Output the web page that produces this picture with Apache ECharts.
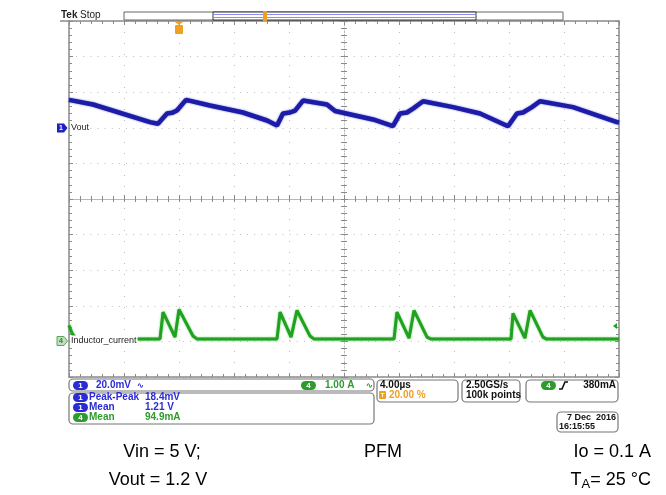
<!DOCTYPE html>
<html><head><meta charset="utf-8">
<script src="https://cdn.jsdelivr.net/npm/echarts@6/dist/echarts.min.js"></script>
<style>html,body{margin:0;padding:0;background:#fff}#c{width:666px;height:495px}</style>
</head><body><div id="c"></div>
<script>
// ---- data ----
// time in microseconds relative to trigger (-8 .. 32 us, 4 us/div)
const voutTime = [-8.00,-6.25,-2.11,-1.53,-0.87,-0.51,-0.15,0.51,2.25,4.65,6.40,7.13,7.56,8.07,8.44,9.02,10.76,11.35,14.11,15.56,16.07,16.58,17.02,17.75,19.93,21.89,23.93,24.58,25.02,25.67,26.25,28.65,31.85,32.00];
// Vout ripple, mV above the channel-1 ground marker (20 mV/div)
const voutRipple = [15.7,13.1,3.2,2.3,8.0,8.4,9.7,15.7,12.5,8.6,4.1,1.3,8.0,8.6,9.7,15.3,13.1,9.4,4.7,0.9,8.0,8.6,10.8,14.9,11.6,8.0,0.9,8.0,8.6,11.6,14.9,11.6,3.2,3.0];
const currentTime = [-8.00,-7.78,-7.49,-1.38,-1.16,-0.29,0.00,1.02,1.30,7.13,7.35,8.15,8.58,9.53,9.80,15.64,15.85,16.73,17.09,18.04,18.30,24.15,24.29,25.16,25.53,26.47,26.70,32.00];
// inductor current, A (1 A/div)
const currentA = [0.45,0.23,0.07,0.07,0.82,0.12,0.90,0.15,0.07,0.07,0.82,0.12,0.87,0.15,0.07,0.07,0.82,0.09,0.87,0.12,0.07,0.07,0.79,0.09,0.87,0.12,0.07,0.07];
const timeTicks = {min:-8, max:32, step:4};
const divTicks = {min:-5, max:5, step:1};

const chart = echarts.init(document.getElementById('c'), null, {renderer:'canvas'});
const GRAY = '#8a8a8a', DOT = '#bdbdbd';
const BLUE = '#1c1ca6', GREEN = '#1fa31f', TBLUE = '#2b2bd6', TGREEN = '#2c9c2c', ORANGE = '#f0a020';
const FONT = 'Liberation Sans';
const G = {left:69, top:21, width:550, height:356};

function xAx(extra){ return Object.assign({type:'value', min:timeTicks.min, max:timeTicks.max, interval:timeTicks.step,
  axisLabel:{show:false}, splitLine:{show:false}, axisLine:{show:true, onZero:false, lineStyle:{color:GRAY, width:1.5}},
  axisTick:{show:true, inside:true, length:4, lineStyle:{color:GRAY}},
  minorTick:{show:true, splitNumber:5, length:3, lineStyle:{color:GRAY}}}, extra); }
function yAx(extra){ return Object.assign({type:'value', min:divTicks.min, max:divTicks.max, interval:divTicks.step,
  axisLabel:{show:false}, splitLine:{show:false}, axisLine:{show:true, onZero:false, lineStyle:{color:GRAY, width:1.5}},
  axisTick:{show:true, inside:true, length:4, lineStyle:{color:GRAY}},
  minorTick:{show:true, splitNumber:5, length:3, lineStyle:{color:GRAY}}}, extra); }

function pill(x, y, txt, color){
  return [{type:'rect', z:100, shape:{x:x, y:y, width:15, height:9, r:4.5}, style:{fill:color}},
          {type:'text', z:101, style:{x:x+7.5, y:y+4.7, text:txt, fill:'#fff', font:'bold 8px '+FONT, textAlign:'center', textVerticalAlign:'middle'}}];
}
function txt(x, y, s, color, size, bold, align){
  return {type:'text', z:101, style:{x:x, y:y, text:s, fill:color, font:(bold?'bold ':'')+size+'px '+FONT, textAlign:align||'left', textVerticalAlign:'middle'}};
}
function box(x, y, w, h){ return {type:'rect', z:99, shape:{x:x, y:y, width:w, height:h, r:4}, style:{fill:'#fff', stroke:'#777', lineWidth:1.2}}; }

const graphics = [].concat(
  // Tek Stop header & record bar
  [txt(61, 15, 'Tek', '#222', 10, true), txt(80, 15, 'Stop', '#222', 10, false),
   {type:'line', z:100, shape:{x1:60, y1:21, x2:69, y2:21}, style:{stroke:GRAY, lineWidth:1.5}},
   {type:'rect', z:100, shape:{x:124, y:12, width:439, height:8}, style:{fill:'#fff', stroke:'#666', lineWidth:1}},
   {type:'rect', z:100, shape:{x:213, y:12, width:263, height:8}, style:{fill:'#fff', stroke:'#333', lineWidth:1}},
   {type:'line', z:101, shape:{x1:214, y1:14.5, x2:475, y2:14.5}, style:{stroke:'#8d8df0', lineWidth:1.2}},
   {type:'line', z:101, shape:{x1:214, y1:17.5, x2:475, y2:17.5}, style:{stroke:'#8d8df0', lineWidth:1.2}},
   {type:'rect', z:102, shape:{x:263, y:11, width:4, height:10}, style:{fill:ORANGE}},
   {type:'polygon', z:102, shape:{points:[[175,22],[183,22],[179,25]]}, style:{fill:ORANGE}},
   {type:'rect', z:102, shape:{x:175, y:25, width:8, height:9, r:1}, style:{fill:ORANGE}},
   txt(179, 29.5, 'T', '#fff', 7, true, 'center')],
  // channel markers
  [{type:'polygon', z:100, shape:{points:[[57,123.5],[64,123.5],[67.5,128],[64,132.5],[57,132.5]]}, style:{fill:'#2020c0'}},
   txt(61, 128.5, '1', '#fff', 7, true, 'center'),
   {type:'text', z:101, style:{x:70, y:128, text:'Vout', fill:'#222', font:'9px '+FONT, textVerticalAlign:'middle', backgroundColor:'#fff', padding:[1,1]}},
   {type:'polygon', z:100, shape:{points:[[57,336.5],[64,336.5],[67.5,341],[64,345.5],[57,345.5]]}, style:{fill:'#bfe0bf', stroke:'#58a858', lineWidth:1}},
   txt(61, 341.5, '4', '#3a7a3a', 7, true, 'center'),
   {type:'text', z:101, style:{x:70, y:341, text:'Inductor_current', fill:'#222', font:'9px '+FONT, textVerticalAlign:'middle', backgroundColor:'#fff', padding:[1,1]}},
   {type:'polygon', z:100, shape:{points:[[613,326],[617,323],[617,329]]}, style:{fill:GREEN}}],
  // info boxes
  [box(69, 379, 305, 12), box(69, 393, 305, 31), box(377, 380, 81, 22), box(462, 380, 58, 22), box(526, 380, 92, 22), box(557, 412, 61, 20)],
  pill(73, 381, '1', TBLUE), [txt(96, 385.5, '20.0mV', TBLUE, 10, true), txt(137, 385.5, '∿', TBLUE, 8, true)],
  pill(301, 381, '4', TGREEN), [txt(325, 385.5, '1.00 A', TGREEN, 10, true), txt(366, 385.5, '∿', TGREEN, 8, true)],
  pill(73, 393, '1', TBLUE), [txt(89, 397.5, 'Peak-Peak', TBLUE, 10, true), txt(145, 397.5, '18.4mV', TBLUE, 10, true)],
  pill(73, 403, '1', TBLUE), [txt(89, 407.5, 'Mean', TBLUE, 10, true), txt(145, 407.5, '1.21 V', TBLUE, 10, true)],
  pill(73, 413, '4', TGREEN), [txt(89, 417.5, 'Mean', TGREEN, 10, true), txt(145, 417.5, '94.9mA', TGREEN, 10, true)],
  [txt(380, 385.5, '4.00µs', '#111', 10, true),
   {type:'rect', z:101, shape:{x:379, y:391, width:7, height:8, r:1}, style:{fill:ORANGE}}, txt(382.5, 395.5, 'T', '#fff', 6, true, 'center'),
   txt(389, 395.5, '20.00 %', ORANGE, 10, true),
   txt(466, 385.5, '2.50GS/s', '#111', 10, true), txt(466, 395.5, '100k points', '#111', 10, true)],
  pill(541, 381, '4', TGREEN),
  [{type:'polyline', z:101, shape:{points:[[559,389],[562,389],[565,382],[568,382]]}, style:{stroke:'#111', lineWidth:1.6, fill:null}},
   txt(616, 385.5, '380mA', '#111', 10, true, 'right'),
   txt(616, 418, '7 Dec  2016', '#111', 9, true, 'right'), txt(559, 427, '16:15:55', '#111', 9, true)],
  // annotations below
  [txt(162, 452, 'Vin = 5 V;', '#000', 18, false, 'center'),
   txt(383, 452, 'PFM', '#000', 18, false, 'center'),
   txt(651, 452, 'Io = 0.1 A', '#000', 18, false, 'right'),
   txt(158, 480, 'Vout = 1.2 V', '#000', 18, false, 'center'),
   {type:'text', z:101, style:{x:651, y:480, rich:{n:{font:'18px '+FONT, fill:'#000'}, s:{font:'13px '+FONT, fill:'#000', padding:[8,0,0,0]}}, text:'{n|T}{s|A}{n|= 25 °C}', textAlign:'right', textVerticalAlign:'middle'}}]
);

chart.setOption({
  animation:false,
  backgroundColor:'#fff',
  grid:Object.assign({containLabel:false}, G),
  xAxis:[
    xAx({position:'bottom', splitLine:{show:true, lineStyle:{color:DOT, width:1, type:[1,10]}}}),
    xAx({position:'top'}),
    xAx({position:'bottom', offset:-178, axisLine:{show:true, onZero:false, lineStyle:{color:'#b8b8b8', width:1}}}),
    xAx({position:'bottom', offset:-178, axisLine:{show:false, onZero:false}, axisTick:{show:true, inside:false, length:3, lineStyle:{color:GRAY}}})
  ],
  yAxis:[
    yAx({position:'left', splitLine:{show:true, lineStyle:{color:DOT, width:1, type:[1,6.12]}}}),
    yAx({position:'right'}),
    yAx({position:'left', offset:-275, axisLine:{show:true, onZero:false, lineStyle:{color:'#b8b8b8', width:1, type:[1,2]}}}),
    yAx({position:'left', offset:-275, axisLine:{show:false, onZero:false}, axisTick:{show:true, inside:false, length:3, lineStyle:{color:GRAY}}}),
    {type:'value', show:false, min:-140, max:60},
    {type:'value', show:false, min:-1, max:9}
  ],
  series:[
    {type:'line', xAxisIndex:0, yAxisIndex:4, showSymbol:false, symbol:'none', z:5,
     lineStyle:{color:BLUE, width:4.5, shadowBlur:2, shadowColor:'rgba(40,40,200,0.7)'}, data:voutTime.map((t,i)=>[t, voutRipple[i]])},
    {type:'line', xAxisIndex:0, yAxisIndex:5, showSymbol:false, symbol:'none', z:5,
     lineStyle:{color:GREEN, width:3, shadowBlur:2, shadowColor:'rgba(40,170,40,0.7)'}, data:currentTime.map((t,i)=>[t, currentA[i]])}
  ],
  graphic:graphics
});
</script></body></html>
